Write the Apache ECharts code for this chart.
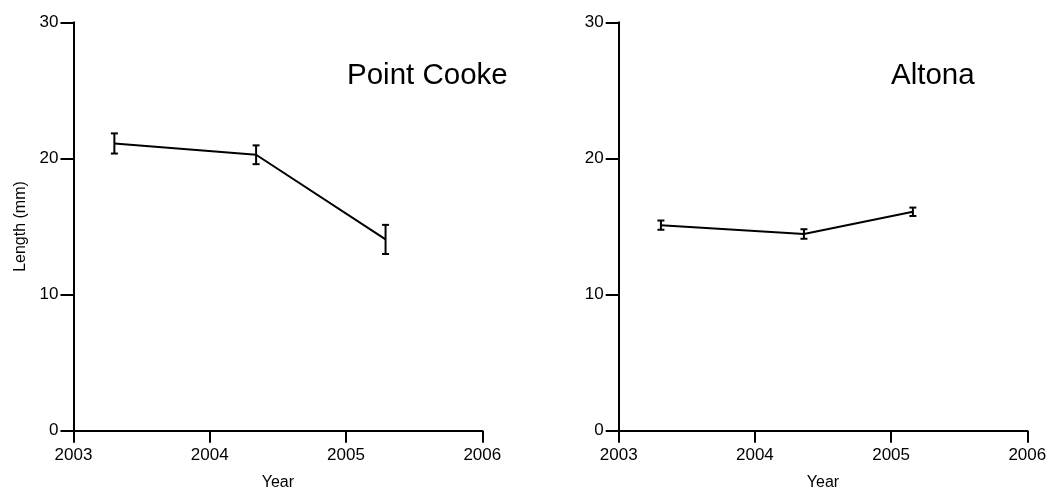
<!DOCTYPE html>
<html>
<head>
<meta charset="utf-8">
<script src="https://cdn.jsdelivr.net/npm/echarts@6/dist/echarts.min.js"></script>
<style>
  html, body { margin: 0; padding: 0; background: #fff; }
  #chart { width: 1051px; height: 490px; }
</style>
</head>
<body>
<div id="chart"></div>
<script>
// Mean shell length by sampling time, with standard error bars
const siteNames = ['Point Cooke', 'Altona'];

const cookeYears = [2003.30, 2004.34, 2005.29];
const cookeMean  = [21.10, 20.27, 14.05];
const cookeErr   = [0.74, 0.69, 1.07];

const altonaYears = [2003.31, 2004.36, 2005.16];
const altonaMean  = [15.10, 14.45, 16.08];
const altonaErr   = [0.34, 0.35, 0.31];

const xTicks = [2003, 2004, 2005, 2006];
const yTicks = [0, 10, 20, 30];

const FONT = '"Liberation Sans", Arial, sans-serif';

function linePoints(xs, ys) { return xs.map((x, i) => [x, ys[i]]); }
function barPoints(xs, ys, es) { return xs.map((x, i) => [x, ys[i] - es[i], ys[i] + es[i]]); }

function renderErrorBar(params, api) {
  const x = api.value(0);
  const lo = api.coord([x, api.value(1)]);
  const hi = api.coord([x, api.value(2)]);
  const half = 3.5;
  const style = { stroke: '#000', lineWidth: 2 };
  return {
    type: 'group',
    children: [
      { type: 'line', shape: { x1: hi[0], y1: hi[1], x2: lo[0], y2: lo[1] }, style },
      { type: 'line', shape: { x1: hi[0] - half, y1: hi[1], x2: hi[0] + half, y2: hi[1] }, style },
      { type: 'line', shape: { x1: lo[0] - half, y1: lo[1], x2: lo[0] + half, y2: lo[1] }, style }
    ]
  };
}

const axisLine = { show: true, onZero: false, lineStyle: { color: '#000', width: 2 } };
const labelStyle = { color: '#000', fontFamily: FONT, fontSize: 17 };

function xAxis(gridIndex) {
  return {
    type: 'value', gridIndex, min: xTicks[0], max: xTicks[xTicks.length - 1], interval: 1,
    axisLine, splitLine: { show: false },
    axisTick: { show: true, length: 12, lineStyle: { color: '#000', width: 2 } },
    axisLabel: Object.assign({ margin: 16, formatter: v => String(v) }, labelStyle),
    name: 'Year', nameLocation: 'middle', nameGap: 44,
    nameTextStyle: { color: '#000', fontFamily: FONT, fontSize: 16 }
  };
}

function yAxis(gridIndex, withName) {
  const ax = {
    type: 'value', gridIndex, min: yTicks[0], max: yTicks[yTicks.length - 1], interval: 10,
    axisLine, splitLine: { show: false },
    axisTick: { show: true, length: 13, lineStyle: { color: '#000', width: 2 } },
    axisLabel: Object.assign({ margin: 15 }, labelStyle)
  };
  if (withName) {
    ax.name = 'Length (mm)';
    ax.nameLocation = 'middle';
    ax.nameGap = 45;
    ax.nameTextStyle = { color: '#000', fontFamily: FONT, fontSize: 16 };
  }
  return ax;
}

const lineStyle = { color: '#000', width: 2 };
const titleStyle = { color: '#000', fontFamily: FONT, fontSize: 29.5, fontWeight: 'normal' };

const option = {
  animation: false,
  backgroundColor: '#fff',
  title: [
    { text: siteNames[0], left: 347, top: 61, padding: 0, textStyle: titleStyle },
    { text: siteNames[1], left: 891, top: 61, padding: 0, textStyle: titleStyle }
  ],
  grid: [
    { left: 73.5, top: 22.3, width: 408.8, height: 408.4, outerBoundsMode: 'none', containLabel: false },
    { left: 618.7, top: 22.3, width: 408.6, height: 408.4, outerBoundsMode: 'none', containLabel: false }
  ],
  xAxis: [xAxis(0), xAxis(1)],
  yAxis: [yAxis(0, true), yAxis(1, false)],
  series: [
    { type: 'line', xAxisIndex: 0, yAxisIndex: 0, data: linePoints(cookeYears, cookeMean),
      showSymbol: false, lineStyle, silent: true },
    { type: 'custom', xAxisIndex: 0, yAxisIndex: 0, data: barPoints(cookeYears, cookeMean, cookeErr),
      renderItem: renderErrorBar, encode: { x: 0, y: [1, 2] }, silent: true },
    { type: 'line', xAxisIndex: 1, yAxisIndex: 1, data: linePoints(altonaYears, altonaMean),
      showSymbol: false, lineStyle, silent: true },
    { type: 'custom', xAxisIndex: 1, yAxisIndex: 1, data: barPoints(altonaYears, altonaMean, altonaErr),
      renderItem: renderErrorBar, encode: { x: 0, y: [1, 2] }, silent: true }
  ]
};

echarts.init(document.getElementById('chart'), null, { renderer: 'canvas' }).setOption(option);
</script>
</body>
</html>
